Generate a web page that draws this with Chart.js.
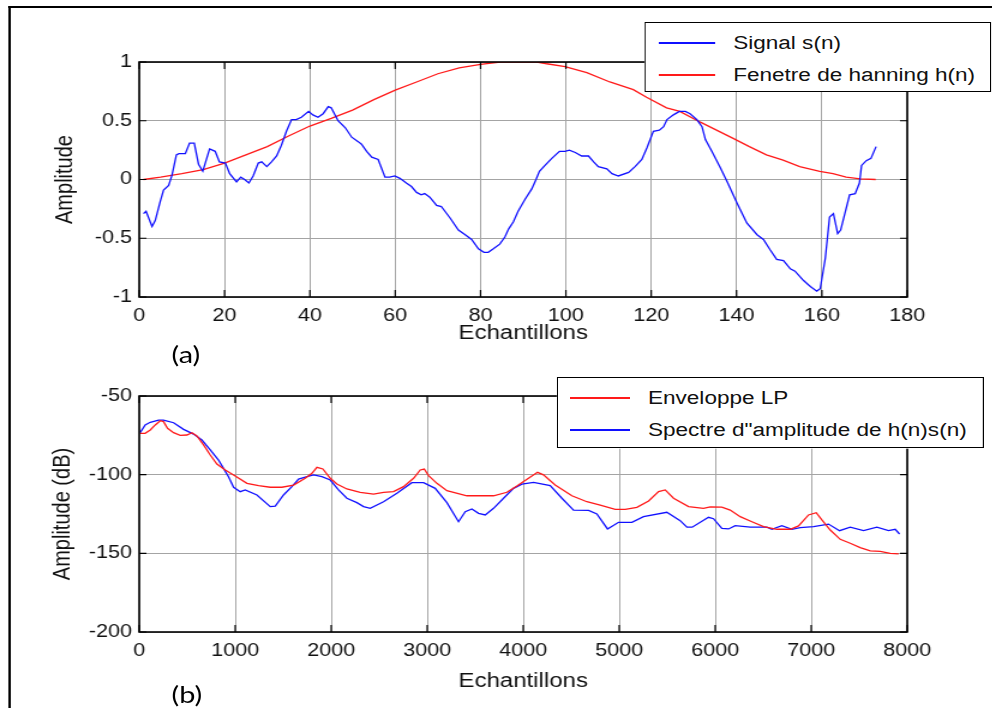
<!DOCTYPE html>
<html>
<head>
<meta charset="utf-8">
<script src="https://cdn.jsdelivr.net/npm/chart.js"></script>
<style>
  html, body { margin: 0; padding: 0; background: #fff; overflow: hidden; }
  #stage {
    position: absolute; left: 0; top: 0; width: 827px; height: 708px;
    transform: scaleX(1.2); transform-origin: 0 0;
    font-family: "Liberation Sans", Arial, sans-serif;
  }
  #frame {
    position: absolute; left: 7px; top: 6px; width: 840px; height: 720px;
    border-top: 2px solid #000; border-left: 2px solid #000;
  }
  canvas { position: absolute; left: 0; }
  .legend {
    position: absolute; background: #fff; border: 1.5px solid #000;
    box-sizing: border-box; font-size: 18.8px; color: #111;
  }
  .legend .row { position: absolute; left: 0; right: 0; height: 22px; line-height: 22px; white-space: nowrap; }
  .legend .swatch { position: absolute; height: 2px; top: 10px; }
  .legend .txt { position: absolute; top: 0; }
  .tag { position: absolute; font-family: Lato, "Open Sans", sans-serif; font-size: 24px; line-height: 1; }
</style>
</head>
<body>
<div id="stage">
  <div id="frame"></div>
  <canvas id="top-chart" width="827" height="345" style="top:0;width:827px;height:345px"></canvas>
  <canvas id="bottom-chart" width="827" height="358" style="top:350px;width:827px;height:358px"></canvas>
  <div class="tag" style="left:143px;top:342px">(a)</div>
  <div class="tag" style="left:143px;top:682px">(b)</div>
  <div id="legend-top" class="legend" style="left:537px;top:22px;width:289px;height:70px"></div>
  <div id="legend-bottom" class="legend" style="left:464px;top:377px;width:356px;height:71px"></div>
</div>
<script>
// (a) signal and hanning window
const signalN = [1, 1.6, 3, 3.75, 4.9, 5.7, 6.9, 7.7, 8.7, 9.3, 10.8, 11.8, 12.9, 13.9, 14.9, 16.5, 17.8, 18.8, 20.2, 21.2,
  22.8, 23.8, 24.7, 25.7, 26.7, 27.9, 28.7, 29.9, 31, 32.2, 33.3, 34.5, 35.7, 36.8, 38, 39.7, 40.7, 41.9, 43.1, 44.3,
  45, 46.6, 48.3, 49.8, 51.4, 52.1, 53.3, 54.5, 56, 57.6, 58.7, 59.9, 61.1, 62.6, 63.8, 65, 66.1, 66.9, 68.1, 69.7,
  70.8, 72.9, 74.8, 76.4, 77.9, 79.5, 80.8, 81.8, 83, 84.5, 85.7, 86.6, 87.7, 88.8, 90.4, 92, 93, 93.8, 95.1, 96.7,
  98.5, 99.8, 100.8, 102.2, 103.7, 105.3, 106.5, 107.6, 109.6, 110.8, 112.3, 114.7, 116.2, 117.8, 119, 120.5, 121.9, 122.9, 123.7, 125.2,
  126.6, 128, 129.1, 130.7, 131.9, 132.7, 134.2, 136.2, 137.8, 140.1, 142.4, 144.8, 146.3, 147.9, 149.4, 151, 152.6, 153.7, 155.7, 157.3,
  158.8, 159.6, 160.8, 161.8, 162.7, 163.7, 164.4, 166.5, 167.8, 168.8, 169.3, 170.4, 171.5, 172.7];
const signalV = [-0.29, -0.27, -0.40, -0.35, -0.19, -0.09, -0.05, 0.04, 0.21, 0.22, 0.22, 0.31, 0.31, 0.13, 0.07, 0.26, 0.24, 0.15, 0.14, 0.05,
  -0.02, 0.02, 0.00, -0.03, 0.03, 0.14, 0.15, 0.11, 0.15, 0.20, 0.29, 0.41, 0.51, 0.51, 0.53, 0.58, 0.55, 0.53, 0.56, 0.62,
  0.61, 0.50, 0.44, 0.36, 0.32, 0.30, 0.24, 0.19, 0.17, 0.02, 0.02, 0.03, 0.01, -0.03, -0.06, -0.11, -0.13, -0.12, -0.15, -0.22,
  -0.23, -0.33, -0.43, -0.47, -0.51, -0.59, -0.62, -0.62, -0.59, -0.55, -0.49, -0.42, -0.36, -0.27, -0.17, -0.08, 0.00, 0.07, 0.12, 0.18,
  0.24, 0.24, 0.25, 0.23, 0.20, 0.20, 0.15, 0.11, 0.09, 0.05, 0.03, 0.06, 0.11, 0.17, 0.27, 0.41, 0.42, 0.45, 0.51, 0.55,
  0.58, 0.58, 0.56, 0.51, 0.45, 0.34, 0.24, 0.10, -0.02, -0.20, -0.37, -0.47, -0.51, -0.60, -0.68, -0.69, -0.76, -0.78, -0.86, -0.91,
  -0.95, -0.93, -0.67, -0.32, -0.29, -0.46, -0.43, -0.13, -0.12, -0.03, 0.12, 0.16, 0.18, 0.28];

const hannN = [1, 5, 10, 15, 20, 25, 30, 35, 40, 45, 50, 55, 60, 65, 70, 75, 80, 84.6, 93.2, 95.5,
  99.8, 104.9, 110.3, 115.8, 118.9, 123.6, 126.7, 131.4, 135.3, 139.2, 143, 147, 150.9, 154.8, 159.5, 162.6, 165.7, 169, 172.6];
const hannV = [0, 0.02, 0.05, 0.085, 0.14, 0.21, 0.28, 0.37, 0.455, 0.52, 0.59, 0.68, 0.76, 0.83, 0.90, 0.95, 0.98, 1.0, 1.0, 0.985,
  0.96, 0.91, 0.83, 0.765, 0.70, 0.61, 0.58, 0.49, 0.42, 0.35, 0.28, 0.21, 0.165, 0.11, 0.07, 0.05, 0.02, 0.005, 0];

// (b) LP envelope and amplitude spectrum in dB
const envX = [10, 62, 115, 167, 219, 253, 295, 358, 427, 497, 549, 601, 670, 740, 809, 896, 1000, 1122, 1243, 1365,
  1486, 1608, 1729, 1799, 1851, 1913, 1990, 2059, 2163, 2302, 2441, 2545, 2649, 2753, 2858, 2927, 2969, 3014, 3101, 3205,
  3413, 3691, 3830, 3934, 4055, 4149, 4211, 4333, 4507, 4663, 4802, 4958, 5063, 5184, 5306, 5410, 5479, 5566, 5722, 5878,
  5948, 6069, 6156, 6260, 6382, 6503, 6642, 6781, 6868, 6972, 7052, 7111, 7198, 7302, 7406, 7510, 7615, 7719, 7823, 7910];
const envV = [-73.7, -73.7, -71.6, -68.4, -65.7, -66.3, -70.5, -73.3, -75, -74.8, -73.3, -75.4, -81.1, -87.5, -93.2, -97, -100.8, -105.5, -107, -108,
  -108, -106.6, -102.3, -99.1, -95.3, -96.4, -102.3, -105.9, -109.1, -111.2, -112.3, -111.2, -110.8, -107.6, -102.3, -97, -96.4, -100.6, -105.5, -110.2,
  -113.4, -113.4, -111.2, -107.2, -102.3, -98.5, -100.1, -106.6, -113.4, -117.2, -119.3, -122, -122, -120.8, -116.7, -110.8, -109.7, -115, -120.3, -121.4,
  -120.5, -120.6, -122.5, -126.7, -129.9, -133, -134.7, -134.7, -132.6, -125.6, -124.2, -128.8, -135.2, -141.1, -143.6, -146.4, -148.5, -148.8, -150, -150.4];

const specX = [10, 62, 115, 201, 253, 358, 462, 566, 653, 740, 826, 878, 930, 983, 1052, 1104, 1226, 1365, 1417, 1503,
  1590, 1660, 1747, 1816, 1903, 1990, 2076, 2163, 2267, 2337, 2406, 2545, 2684, 2840, 2962, 3083, 3205, 3326, 3396, 3465,
  3535, 3604, 3691, 3795, 3899, 3986, 4108, 4281, 4403, 4524, 4681, 4767, 4878, 4993, 5132, 5253, 5496, 5635, 5705, 5760,
  5930, 5982, 6069, 6139, 6208, 6365, 6538, 6590, 6694, 6799, 6885, 7024, 7180, 7295, 7406, 7545, 7684, 7805, 7875, 7920];
const specV = [-73.3, -68.4, -66.7, -65.3, -65.3, -67, -71.2, -74.2, -78, -84.3, -90.7, -96, -101.3, -108, -110.8, -109.7, -112.9, -120.3, -120, -112.9,
  -107.6, -102.8, -101.3, -100.2, -101.3, -103.4, -109.7, -115, -117.8, -120.3, -121.4, -117.2, -111.8, -105.1, -105.1, -108.7, -117.8, -129.9, -123.5, -121.8,
  -124.6, -125.6, -121.4, -115, -108.7, -106, -104.9, -107, -115, -122.5, -122.7, -125, -134.5, -130.3, -130.3, -126.7, -123.9, -129.2, -133.4, -133.4,
  -127.1, -128, -134.1, -134.5, -132.4, -133.4, -133.4, -134.7, -132.4, -134.7, -133.6, -133, -131.4, -135.6, -133.4, -135.6, -133.4, -135.6, -134.7, -137.7];

const BLUE = "#1010ff";
const RED = "#ff1a1a";
const GRID = "#a4a4a4";

Chart.defaults.font.family = '"Liberation Sans", Arial, sans-serif';
Chart.defaults.font.size = 18;
Chart.defaults.color = "#111";

function toPoints(xs, ys) {
    return xs.map((x, i) => ({ x: x, y: ys[i] }));
}

// MATLAB style axes: full box plus inward tick marks on all four sides
const matlabBox = {
    id: "matlabBox",
    afterDraw(chart) {
        const { ctx, chartArea: a, scales: { x, y } } = chart;
        ctx.save();
        ctx.strokeStyle = "#000";
        ctx.lineWidth = 1.2;
        ctx.beginPath();
        x.ticks.forEach(t => {
            const px = x.getPixelForValue(t.value);
            ctx.moveTo(px, a.bottom); ctx.lineTo(px, a.bottom - 7);
            ctx.moveTo(px, a.top); ctx.lineTo(px, a.top + 7);
        });
        y.ticks.forEach(t => {
            const py = y.getPixelForValue(t.value);
            ctx.moveTo(a.left, py); ctx.lineTo(a.left + 6, py);
            ctx.moveTo(a.right, py); ctx.lineTo(a.right - 6, py);
        });
        ctx.stroke();
        ctx.lineWidth = 1.6;
        ctx.strokeRect(a.left, a.top, a.right - a.left, a.bottom - a.top);
        ctx.restore();
    }
};

function makeChart(id, datasets, o) {
    return new Chart(document.getElementById(id), {
        type: "line",
        data: { datasets: datasets },
        plugins: [matlabBox],
        options: {
            responsive: false,
            animation: false,
            layout: { padding: { left: 0, right: 71, top: o.padTop, bottom: 0 } },
            plugins: { legend: { display: false }, tooltip: { enabled: false } },
            elements: { point: { radius: 0 }, line: { borderWidth: 1.3, tension: 0 } },
            scales: {
                x: {
                    type: "linear", min: o.xMin, max: o.xMax,
                    ticks: { stepSize: o.xStep, padding: 8, maxRotation: 0, callback: v => String(v) },
                    grid: { color: GRID, lineWidth: 1, drawTicks: false },
                    border: { display: false },
                    title: { display: true, text: "Echantillons", font: { size: 20 }, padding: { top: 0, bottom: o.xTitlePad } },
                    afterFit: s => { s.height = o.xHeight; }
                },
                y: {
                    type: "linear", min: o.yMin, max: o.yMax,
                    ticks: { stepSize: o.yStep, padding: 6, callback: v => String(v) },
                    grid: { color: GRID, lineWidth: 1, drawTicks: false },
                    border: { display: false },
                    title: { display: true, text: o.yTitle, font: { size: 20 }, padding: { top: o.yTitlePad, bottom: 0 } },
                    afterFit: s => { s.width = 116; }
                }
            }
        }
    });
}

function buildLegend(boxId, chart, rowsY, swatchX, textX) {
    const box = document.getElementById(boxId);
    chart.data.datasets.forEach((ds, i) => {
        const row = document.createElement("div");
        row.className = "row";
        row.style.top = rowsY[i] + "px";
        const sw = document.createElement("div");
        sw.className = "swatch";
        sw.style.left = swatchX[0] + "px";
        sw.style.width = (swatchX[1] - swatchX[0]) + "px";
        sw.style.backgroundColor = ds.borderColor;
        const txt = document.createElement("span");
        txt.className = "txt";
        txt.style.left = textX + "px";
        txt.textContent = ds.label;
        row.appendChild(sw);
        row.appendChild(txt);
        box.appendChild(row);
    });
}

const topChart = makeChart("top-chart", [
    { label: "Signal s(n)", data: toPoints(signalN, signalV), borderColor: BLUE },
    { label: "Fenetre de hanning h(n)", data: toPoints(hannN, hannV), borderColor: RED }
], { padTop: 62, xMin: 0, xMax: 180, xStep: 20, yMin: -1, yMax: 1, yStep: 0.5,
     xHeight: 48, xTitlePad: 0, yTitle: "Amplitude", yTitlePad: 42 });

const bottomChart = makeChart("bottom-chart", [
    { label: "Enveloppe LP", data: toPoints(envX, envV), borderColor: RED },
    { label: "Spectre d\"amplitude de h(n)s(n)", data: toPoints(specX, specV), borderColor: BLUE }
], { padTop: 46, xMin: 0, xMax: 8000, xStep: 1000, yMin: -200, yMax: -50, yStep: 50,
     xHeight: 76, xTitlePad: 15, yTitle: "Amplitude (dB)", yTitlePad: 40 });

buildLegend("legend-top", topChart, [9, 41], [11, 58], 73);
buildLegend("legend-bottom", bottomChart, [9, 41], [10, 60], 75);
</script>
</body>
</html>
